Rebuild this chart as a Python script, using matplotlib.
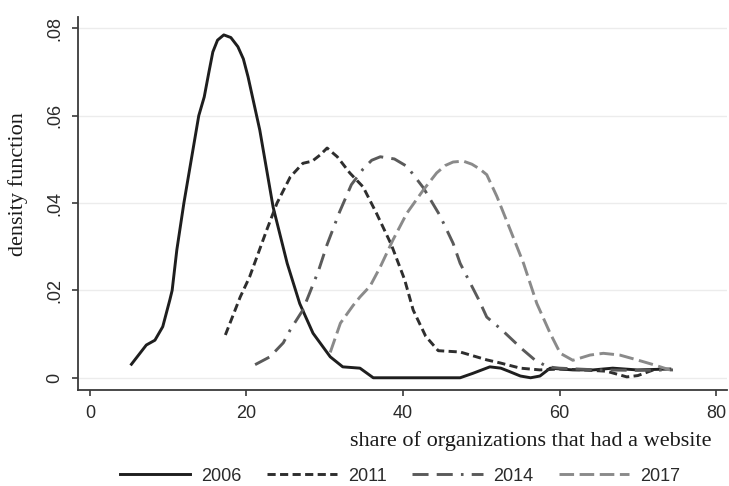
import matplotlib
matplotlib.use("Agg")
import matplotlib.pyplot as plt

# density curves
x2006 = [5.3, 7.2, 8.3, 9.3, 10.2, 10.5, 11.1, 12.0, 13.9, 14.6, 15.2, 15.7, 16.3, 17.1,
         18.0, 18.9, 19.6, 20.2, 21.7, 23.4, 25.2, 26.8, 28.5, 30.7, 32.3, 34.5, 36.2,
         47.3, 48.9, 51.1, 52.5, 53.5, 55.0, 56.3, 57.5, 58.8, 61.7, 64.3, 66.8, 69.9, 74.1]
y2006 = [0.0031, 0.0075, 0.0086, 0.0117, 0.0178, 0.020, 0.0293, 0.040, 0.060, 0.0643,
         0.070, 0.0746, 0.0773, 0.0785, 0.0779, 0.0758, 0.073, 0.0689, 0.0567, 0.0391,
         0.0262, 0.017, 0.0102, 0.0048, 0.0025, 0.0022, 0.0, 0.0, 0.001, 0.0025, 0.0022,
         0.0015, 0.0004, 0.0, 0.0004, 0.0022, 0.0018, 0.0018, 0.0022, 0.0018, 0.002]

x2011 = [17.3, 19.2, 20.4, 22.6, 23.9, 25.6, 27.2, 28.4, 29.4, 30.3, 31.6, 33.2, 34.9,
         36.6, 38.5, 40.2, 41.3, 42.9, 44.5, 47.3, 50.7, 52.4, 55.0, 57.5, 60.0, 63.0,
         66.0, 68.6, 70.0, 72.0]
y2011 = [0.0098, 0.0185, 0.0231, 0.0339, 0.040, 0.046, 0.0491, 0.0496, 0.051, 0.0526,
         0.0506, 0.0469, 0.0437, 0.0377, 0.0305, 0.0225, 0.0155, 0.0095, 0.0062, 0.0059,
         0.0041, 0.0034, 0.0022, 0.0018, 0.002, 0.0018, 0.0015, 0.0002, 0.0005, 0.0018]

x2014 = [21.1, 23.0, 24.7, 25.6, 27.2, 29.2, 30.3, 31.9, 33.4, 34.9, 36.0, 37.1, 38.9,
         40.5, 42.6, 44.7, 46.4, 47.3, 49.7, 50.7, 52.6, 55.2, 56.9, 58.5, 60.0, 64.8,
         70.0, 74.5]
y2014 = [0.003, 0.0048, 0.008, 0.011, 0.0155, 0.0245, 0.0305, 0.038, 0.0442, 0.0478,
         0.0498, 0.0506, 0.0501, 0.0484, 0.0435, 0.0372, 0.0308, 0.0262, 0.0178, 0.0139,
         0.011, 0.0066, 0.004, 0.0025, 0.0022, 0.0018, 0.0017, 0.0018]

x2017 = [30.7, 32.0, 33.6, 34.5, 35.8, 37.1, 38.7, 40.5, 42.6, 44.3, 45.4, 46.4, 47.7,
         48.8, 49.8, 50.7, 52.0, 53.7, 55.4, 57.1, 58.8, 60.1, 61.7, 63.9, 65.6, 67.7,
         69.9, 72.0, 74.1]
y2017 = [0.0058, 0.0125, 0.0165, 0.0185, 0.021, 0.0254, 0.0315, 0.0377, 0.043, 0.0469,
         0.0486, 0.0494, 0.0496, 0.0489, 0.0478, 0.0465, 0.0415, 0.0339, 0.0262, 0.017,
         0.0102, 0.0056, 0.004, 0.0052, 0.0056, 0.0052, 0.0041, 0.003, 0.0018]

years = ['2006', '2011', '2014', '2017']
xticks = [0, 20, 40, 60, 80]
yticks = [0, 0.02, 0.04, 0.06, 0.08]
ytick_labels = ['0', '.02', '.04', '.06', '.08']

sans = ['Liberation Sans', 'DejaVu Sans']
serif = ['Liberation Serif', 'DejaVu Serif']
plt.rcParams['font.family'] = sans

fig = plt.figure(figsize=(7.29, 4.86), dpi=100)
ax = fig.add_axes([78/729, 96/486, 649/729, 373/486])

lw = 2.1
ax.plot(x2006, y2006, color='#1e1e1e', lw=lw, linestyle='-', label=years[0])
ax.plot(x2011, y2011, color='#2e2e2e', lw=lw, linestyle=(0, (2.8, 1.5)), label=years[1])
ax.plot(x2014, y2014, color='#5a5a5a', lw=lw,
        linestyle=(0, (5.5, 2.8, 5.5, 2.8, 0.9, 2.8)), label=years[2])
ax.plot(x2017, y2017, color='#8a8a8a', lw=lw, linestyle=(0, (5.0, 1.9)), label=years[3])

ax.set_xlim(-1.53, 81.4)
ax.set_ylim(-0.0028, 0.0826)
ax.set_xticks(xticks)
ax.set_yticks(yticks)
ax.set_yticklabels(ytick_labels)
ax.grid(axis='y', color='#ececec', lw=1.0)
ax.set_axisbelow(True)

for s in ['top', 'right']:
    ax.spines[s].set_visible(False)
for s in ['left', 'bottom']:
    ax.spines[s].set_color('#3a3a3a')
    ax.spines[s].set_linewidth(1.3)

ax.tick_params(axis='both', colors='#3a3a3a', labelcolor='#2a2a2a', labelsize=13,
               length=4.5, width=1.2)
ax.tick_params(axis='y', labelrotation=90, pad=6)
ax.tick_params(axis='x', pad=6)
plt.setp(ax.get_yticklabels(), va='center')

fig.text(18/729, 1 - 184/486, 'density function', rotation=90, family=serif,
         fontsize=16, ha='center', va='center', color='#1a1a1a')
fig.text(712/729, 1 - 441/486, 'share of organizations that had a website',
         family=serif, fontsize=16, ha='right', va='center', color='#1a1a1a')

fig.legend(loc='center', bbox_to_anchor=(400/729, 1 - 476/486), ncol=4, frameon=False,
           fontsize=13, handlelength=3.9, handletextpad=0.6, columnspacing=1.4,
           labelcolor='#2a2a2a')

fig.savefig('out.png', dpi=100)
